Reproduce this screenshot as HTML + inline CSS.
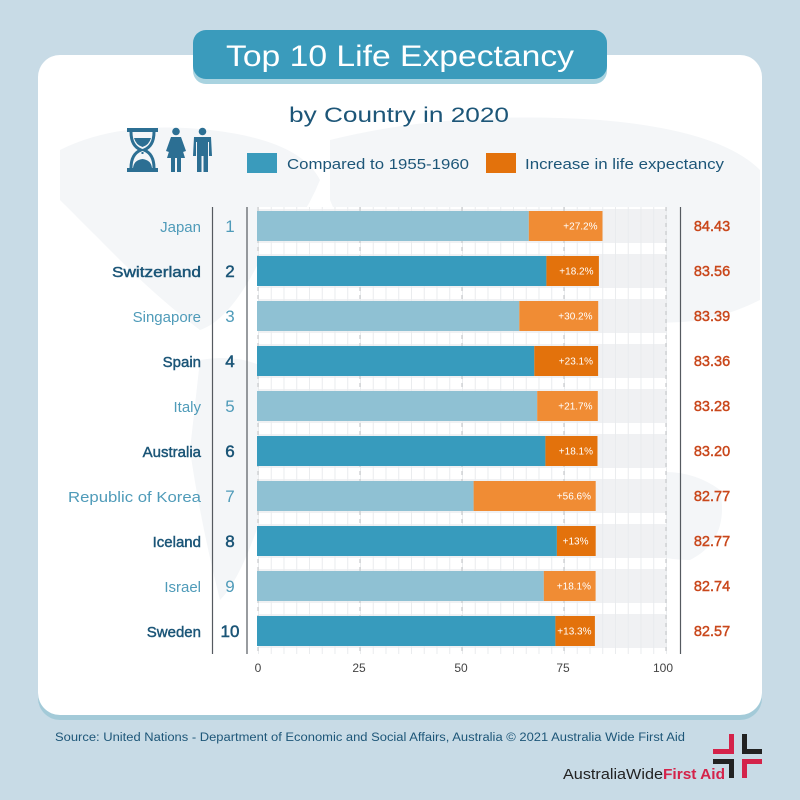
<!DOCTYPE html>
<html><head><meta charset="utf-8"><style>
html,body{margin:0;padding:0;background:#c8dbe6;}
svg{display:block;}
text{font-family:"Liberation Sans",sans-serif;}
</style></head><body>
<svg width="800" height="800" viewBox="0 0 800 800" xmlns="http://www.w3.org/2000/svg">
<defs>
<pattern id="g" x="258" y="0" width="12.75" height="10" patternUnits="userSpaceOnUse">
<rect x="0" y="0" width="1" height="10" fill="#e9ebee"/>
</pattern>
</defs>
<rect width="800" height="800" fill="#c8dbe6"/>
<!-- card shadow & card -->
<rect x="38" y="60" width="724" height="660" rx="22" fill="#a3cad8"/>
<rect x="38" y="55" width="724" height="660" rx="22" fill="#ffffff"/>
<!-- faint map -->
<g fill="#f4f6f8">
<path d="M60 150 Q120 120 210 130 Q300 140 320 180 Q300 230 260 260 Q230 320 200 330 Q160 300 120 260 Q80 220 60 200 Z"/>
<path d="M330 140 Q450 110 600 120 Q720 130 760 170 L760 300 Q700 330 640 320 Q560 340 520 300 Q460 320 400 300 Q350 250 330 200 Z"/>
<path d="M200 360 Q260 350 290 390 Q300 450 260 520 Q240 580 220 600 Q200 520 190 450 Z"/>
<path d="M390 330 Q450 320 500 350 Q520 420 480 500 Q450 540 430 520 Q400 450 380 400 Z"/>
<path d="M620 480 Q680 460 720 490 Q730 540 690 560 Q640 560 620 530 Z"/>
</g>
<!-- title pill -->
<rect x="193" y="35" width="414" height="49" rx="13" fill="#a9d3e0"/>
<rect x="193" y="30" width="414" height="49" rx="13" fill="#3a9bbc"/>
<text x="400" y="66" text-anchor="middle" font-size="30" fill="#ffffff" textLength="348" lengthAdjust="spacingAndGlyphs">Top 10 Life Expectancy</text>
<text x="399" y="122" text-anchor="middle" font-size="21" fill="#1d5678" textLength="220" lengthAdjust="spacingAndGlyphs">by Country in 2020</text>
<!-- icons -->
<g fill="#2c6f93">
<rect x="127" y="128" width="31" height="4"/>
<rect x="127" y="168" width="31" height="4"/>
<path d="M131 132 Q131 146 141 150 Q131 154 131 168" fill="none" stroke="#2c6f93" stroke-width="3"/>
<path d="M154 132 Q154 146 144 150 Q154 154 154 168" fill="none" stroke="#2c6f93" stroke-width="3"/>
<path d="M134 138 L151 138 Q149 145 142.5 147 Q136 145 134 138 Z"/>
<path d="M133 168 Q134 160 142.5 159 Q151 160 152 168 Z"/>
<rect x="141.5" y="152" width="2" height="2"/>
<circle cx="176" cy="131.5" r="3.8"/>
<path d="M171 137 L181 137 L186 151 L183 152 L181 145 L185 158 L167 158 L171 145 L169 152 L166 151 Z"/>
<rect x="171" y="157" width="4" height="15"/>
<rect x="177" y="157" width="4" height="15"/>
<circle cx="202.5" cy="131.5" r="3.8"/>
<path d="M194 137 L211 137 L212 156 L209 156 L209 142 L208 142 L208 172 L203.5 172 L203.5 156 L201.5 156 L201.5 172 L197 172 L197 142 L196 142 L196 156 L193 156 Z"/>
</g>
<!-- legend -->
<rect x="247" y="153" width="30" height="20" fill="#3a9bbc"/>
<text x="287" y="169" font-size="15" fill="#1d5678" textLength="182" lengthAdjust="spacingAndGlyphs">Compared to 1955-1960</text>
<rect x="486" y="153" width="30" height="20" fill="#e3720c"/>
<text x="525" y="169" font-size="15" fill="#1d5678" textLength="199" lengthAdjust="spacingAndGlyphs">Increase in life expectancy</text>
<!-- chart background -->
<rect x="258" y="207" width="409" height="447" fill="#ffffff"/>
<g fill="#f0f1f3">
<rect x="258" y="209" width="408" height="34"/>
<rect x="258" y="254" width="408" height="34"/>
<rect x="258" y="299" width="408" height="34"/>
<rect x="258" y="344" width="408" height="34"/>
<rect x="258" y="389" width="408" height="34"/>
<rect x="258" y="434" width="408" height="34"/>
<rect x="258" y="479" width="408" height="34"/>
<rect x="258" y="524" width="408" height="34"/>
<rect x="258" y="569" width="408" height="34"/>
<rect x="258" y="614" width="408" height="34"/>
</g>
<rect x="258" y="207" width="409" height="447" fill="url(#g)"/>
<g stroke="#c8cacd" stroke-width="1.2" stroke-dasharray="4 4">
<line x1="258" y1="207" x2="258" y2="654"/>
<line x1="360" y1="207" x2="360" y2="654"/>
<line x1="462" y1="207" x2="462" y2="654"/>
<line x1="564" y1="207" x2="564" y2="654"/>
<line x1="666" y1="207" x2="666" y2="654"/>
</g>
<!-- bars -->
<g>
<rect x="257" y="211" width="271.8" height="30" fill="#8fc1d3"/><rect x="528.8" y="211" width="73.7" height="30" fill="#f08c34"/>
<rect x="257" y="256" width="289.4" height="30" fill="#379bbd"/><rect x="546.4" y="256" width="52.5" height="30" fill="#e3720c"/>
<rect x="257" y="301" width="262.3" height="30" fill="#8fc1d3"/><rect x="519.3" y="301" width="78.9" height="30" fill="#f08c34"/>
<rect x="257" y="346" width="277.3" height="30" fill="#379bbd"/><rect x="534.3" y="346" width="63.8" height="30" fill="#e3720c"/>
<rect x="257" y="391" width="280.2" height="30" fill="#8fc1d3"/><rect x="537.2" y="391" width="60.6" height="30" fill="#f08c34"/>
<rect x="257" y="436" width="288.4" height="30" fill="#379bbd"/><rect x="545.4" y="436" width="52.1" height="30" fill="#e3720c"/>
<rect x="257" y="481" width="216.6" height="30" fill="#8fc1d3"/><rect x="473.6" y="481" width="122.1" height="30" fill="#f08c34"/>
<rect x="257" y="526" width="299.9" height="30" fill="#379bbd"/><rect x="556.9" y="526" width="38.8" height="30" fill="#e3720c"/>
<rect x="257" y="571" width="286.8" height="30" fill="#8fc1d3"/><rect x="543.8" y="571" width="51.8" height="30" fill="#f08c34"/>
<rect x="257" y="616" width="298.4" height="30" fill="#379bbd"/><rect x="555.4" y="616" width="39.5" height="30" fill="#e3720c"/>
</g>
<g font-size="10" fill="#ffffff" text-anchor="end">
<text x="597.5" y="229.5">+27.2%</text>
<text x="593.5" y="274.5">+18.2%</text>
<text x="592.5" y="319.5">+30.2%</text>
<text x="593" y="364.5">+23.1%</text>
<text x="592.5" y="409.5">+21.7%</text>
<text x="593" y="454.5">+18.1%</text>
<text x="591" y="499.5">+56.6%</text>
<text x="588.5" y="544.5">+13%</text>
<text x="591" y="589.5">+18.1%</text>
<text x="591.5" y="634.5">+13.3%</text>
</g>
<!-- separator lines -->
<g stroke="#555a60" stroke-width="1.2">
<line x1="212.5" y1="207" x2="212.5" y2="654"/>
<line x1="247" y1="207" x2="247" y2="654"/>
<line x1="680.5" y1="207" x2="680.5" y2="654"/>
</g>
<!-- names -->
<g font-size="15" text-anchor="end">
<text x="201" y="232" fill="#4f9bb9">Japan</text>
<text x="201" y="277" fill="#1b5577" stroke="#1b5577" stroke-width="0.45" textLength="89" lengthAdjust="spacingAndGlyphs">Switzerland</text>
<text x="201" y="322" fill="#4f9bb9">Singapore</text>
<text x="201" y="367" fill="#1b5577" stroke="#1b5577" stroke-width="0.45">Spain</text>
<text x="201" y="412" fill="#4f9bb9">Italy</text>
<text x="201" y="457" fill="#1b5577" stroke="#1b5577" stroke-width="0.45">Australia</text>
<text x="201" y="502" fill="#4f9bb9" textLength="133" lengthAdjust="spacingAndGlyphs">Republic of Korea</text>
<text x="201" y="547" fill="#1b5577" stroke="#1b5577" stroke-width="0.45">Iceland</text>
<text x="201" y="592" fill="#4f9bb9">Israel</text>
<text x="201" y="637" fill="#1b5577" stroke="#1b5577" stroke-width="0.45">Sweden</text>
</g>
<g font-size="17" text-anchor="middle">
<text x="230" y="232" fill="#4f9bb9">1</text>
<text x="230" y="277" fill="#1b5577" stroke="#1b5577" stroke-width="0.5">2</text>
<text x="230" y="322" fill="#4f9bb9">3</text>
<text x="230" y="367" fill="#1b5577" stroke="#1b5577" stroke-width="0.5">4</text>
<text x="230" y="412" fill="#4f9bb9">5</text>
<text x="230" y="457" fill="#1b5577" stroke="#1b5577" stroke-width="0.5">6</text>
<text x="230" y="502" fill="#4f9bb9">7</text>
<text x="230" y="547" fill="#1b5577" stroke="#1b5577" stroke-width="0.5">8</text>
<text x="230" y="592" fill="#4f9bb9">9</text>
<text x="230" y="637" fill="#1b5577" stroke="#1b5577" stroke-width="0.5">10</text>
</g>
<!-- values -->
<g font-size="14.5" text-anchor="middle" fill="#c9471b" stroke="#c9471b" stroke-width="0.45">
<text x="712" y="231">84.43</text>
<text x="712" y="276">83.56</text>
<text x="712" y="321">83.39</text>
<text x="712" y="366">83.36</text>
<text x="712" y="411">83.28</text>
<text x="712" y="456">83.20</text>
<text x="712" y="501">82.77</text>
<text x="712" y="546">82.77</text>
<text x="712" y="591">82.74</text>
<text x="712" y="636">82.57</text>
</g>
<!-- axis labels -->
<g font-size="12" fill="#444" text-anchor="middle">
<text x="258" y="672">0</text>
<text x="359" y="672">25</text>
<text x="461" y="672">50</text>
<text x="563" y="672">75</text>
<text x="663" y="672">100</text>
</g>
<!-- footer -->
<text x="55" y="741" font-size="11.5" fill="#1d5678" textLength="630" lengthAdjust="spacingAndGlyphs">Source: United Nations - Department of Economic and Social Affairs, Australia © 2021 Australia Wide First Aid</text>
<text x="563" y="779" font-size="15" fill="#222" textLength="100" lengthAdjust="spacingAndGlyphs">AustraliaWide</text>
<text x="663" y="779" font-size="15" fill="#d4234a" font-weight="bold" textLength="62" lengthAdjust="spacingAndGlyphs">First Aid</text>
<g>
<rect x="729" y="734" width="5" height="20" fill="#d4234a"/><rect x="713" y="749" width="21" height="5" fill="#d4234a"/>
<rect x="742" y="734" width="5" height="20" fill="#222"/><rect x="742" y="749" width="20" height="5" fill="#222"/>
<rect x="713" y="759" width="21" height="5" fill="#222"/><rect x="729" y="759" width="5" height="19" fill="#222"/>
<rect x="742" y="759" width="20" height="5" fill="#d4234a"/><rect x="742" y="759" width="5" height="19" fill="#d4234a"/>
</g>
</svg>
</body></html>
